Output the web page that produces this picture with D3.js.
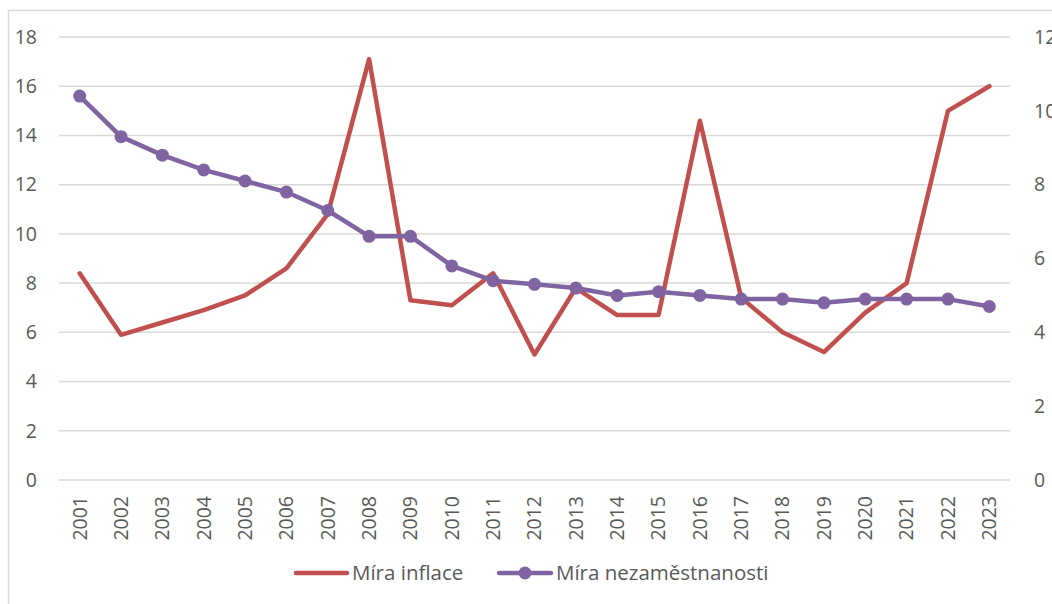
<!DOCTYPE html>
<html>
<head>
<meta charset="utf-8">
<script src="https://cdn.jsdelivr.net/npm/d3@7"></script>
<style>
  body { margin: 0; background: #fff; }
  svg { display: block; font-family: "Open Sans", "Liberation Sans", sans-serif; }
</style>
</head>
<body>
<svg id="chart" width="1052" height="604"></svg>
<script>
const years = ["2001","2002","2003","2004","2005","2006","2007","2008","2009","2010","2011","2012",
  "2013","2014","2015","2016","2017","2018","2019","2020","2021","2022","2023"];
const inflace = [8.4, 5.9, 6.4, 6.9, 7.5, 8.6, 10.8, 17.1, 7.3, 7.1, 8.4, 5.1,
  7.8, 6.7, 6.7, 14.6, 7.4, 6.0, 5.2, 6.8, 8.0, 15.0, 16.0];
const nezamestnanost = [10.4, 9.3, 8.8, 8.4, 8.1, 7.8, 7.3, 6.6, 6.6, 5.8, 5.4, 5.3,
  5.2, 5.0, 5.1, 5.0, 4.9, 4.9, 4.8, 4.9, 4.9, 4.9, 4.7];
const leftTicks = [0, 2, 4, 6, 8, 10, 12, 14, 16, 18];
const rightTicks = [0, 2, 4, 6, 8, 10, 12];
const seriesNames = ["Míra inflace", "Míra nezaměstnanosti"];

const red = "#c0504d", purple = "#8064a2", textCol = "#595959", gridCol = "#d9d9d9";
const fontSize = "19.5px";
const svg = d3.select("#chart");

// chart border
svg.append("rect").attr("x", 8.5).attr("y", 10.5).attr("width", 1100).attr("height", 700)
  .attr("fill", "none").attr("stroke", gridCol).attr("stroke-width", 1.5);

const plotLeft = 59, plotRight = 1010, plotTop = 37, plotBottom = 480;
const x = d3.scaleBand().domain(years).range([plotLeft, plotRight]);
const yL = d3.scaleLinear().domain([0, 18]).range([plotBottom, plotTop]);
const yR = d3.scaleLinear().domain([0, 12]).range([plotBottom, plotTop]);

// gridlines
svg.append("g").selectAll("line").data(leftTicks).join("line")
  .attr("x1", plotLeft).attr("x2", plotRight)
  .attr("y1", d => yL(d)).attr("y2", d => yL(d))
  .attr("stroke", gridCol).attr("stroke-width", 1.5);

// left axis
const axL = svg.append("g").attr("transform", `translate(${plotLeft - 22},0)`)
  .call(d3.axisLeft(yL).tickValues(leftTicks).tickSize(0).tickPadding(0));
axL.select(".domain").remove();
axL.selectAll("text").attr("fill", textCol).style("font-size", fontSize)
  .style("font-family", "'Open Sans', 'Liberation Sans', sans-serif");

// right axis
const axR = svg.append("g").attr("transform", `translate(1034,0)`)
  .call(d3.axisRight(yR).tickValues(rightTicks).tickSize(0).tickPadding(0));
axR.select(".domain").remove();
axR.selectAll("text").attr("fill", textCol).style("font-size", fontSize)
  .style("font-family", "'Open Sans', 'Liberation Sans', sans-serif");

// x axis
const axX = svg.append("g").attr("transform", `translate(0,${plotBottom + 16})`)
  .call(d3.axisBottom(x).tickSize(0).tickPadding(0));
axX.select(".domain").remove();
axX.selectAll("text")
  .attr("fill", textCol).style("font-size", fontSize)
  .style("font-family", "'Open Sans', 'Liberation Sans', sans-serif")
  .attr("transform", "rotate(-90)")
  .attr("text-anchor", "end")
  .attr("x", 0).attr("y", 0).attr("dy", "0.35em");

const cx = (d, i) => x(years[i]) + x.bandwidth() / 2;

// inflation line
svg.append("path").datum(inflace)
  .attr("fill", "none").attr("stroke", red).attr("stroke-width", 4.5)
  .attr("stroke-linejoin", "round").attr("stroke-linecap", "round")
  .attr("d", d3.line().x(cx).y(d => yL(d)));

// unemployment line
svg.append("path").datum(nezamestnanost)
  .attr("fill", "none").attr("stroke", purple).attr("stroke-width", 4.5)
  .attr("stroke-linejoin", "round").attr("stroke-linecap", "round")
  .attr("d", d3.line().x(cx).y(d => yR(d)));
svg.append("g").selectAll("circle").data(nezamestnanost).join("circle")
  .attr("cx", cx).attr("cy", d => yR(d)).attr("r", 6.5).attr("fill", purple);

// legend
const lg = svg.append("g").attr("transform", "translate(0,573)");
lg.append("line").attr("x1", 296).attr("x2", 347).attr("y1", 0).attr("y2", 0)
  .attr("stroke", red).attr("stroke-width", 4.5).attr("stroke-linecap", "round");
lg.append("text").attr("x", 352).attr("y", 0).attr("dy", "0.35em")
  .attr("fill", textCol).style("font-size", "20.5px").text(seriesNames[0]);
lg.append("line").attr("x1", 499).attr("x2", 551).attr("y1", 0).attr("y2", 0)
  .attr("stroke", purple).attr("stroke-width", 4.5).attr("stroke-linecap", "round");
lg.append("circle").attr("cx", 525).attr("cy", 0).attr("r", 6.5).attr("fill", purple);
lg.append("text").attr("x", 556).attr("y", 0).attr("dy", "0.35em")
  .attr("fill", textCol).style("font-size", "20.5px").text(seriesNames[1]);
</script>
</body>
</html>
